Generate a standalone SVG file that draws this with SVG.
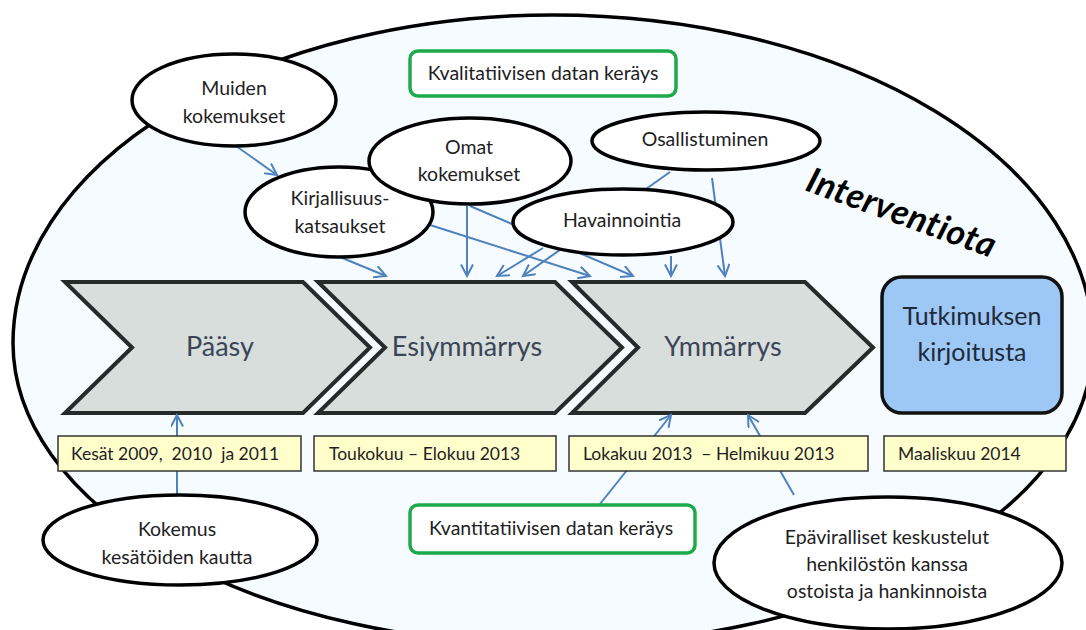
<svg xmlns="http://www.w3.org/2000/svg" width="1086" height="630" viewBox="0 0 1086 630">
<defs>
<style>
.bg{fill:#F5FBFE;stroke:#000;stroke-width:3.5}
.chev{fill:#D7DEDC;stroke:#262B2A;stroke-width:4;stroke-linejoin:miter}
.node{fill:#FFFFFF;stroke:#000;stroke-width:3.5}
.date{fill:#FFFFCC;stroke:#333;stroke-width:1.5}
.green{fill:#FFFFFF;stroke:#1EAA4A;stroke-width:3.5}
.blue{fill:#9DC8F6;stroke:#111;stroke-width:3.5}
.conn line{stroke:#4F81BD;stroke-width:2;fill:none;marker-end:url(#ah)}
text{font-family:Lato,"Open Sans","Liberation Sans",sans-serif;fill:#1E1E24}
.t17{font-size:19.5px;text-anchor:middle}
.t16{font-size:17.5px;white-space:pre}
.tc{font-size:27px;text-anchor:middle;fill:#3B4556}
.tb{font-size:25px;text-anchor:middle;fill:#1F2A3A}
</style>
<marker id="ah" markerWidth="14" markerHeight="14" refX="12" refY="6.5" orient="auto" markerUnits="userSpaceOnUse">
<path d="M0.5,0.5 L12,6.5 L0.5,12.5" fill="none" stroke="#4F81BD" stroke-width="2"/>
</marker>
</defs>

<g id="intervention-ellipse">
<path class="bg" d="M13,343 A540,328 0 0 1 1093,343 A540,302 0 0 1 13,343 Z"/>
</g>

<g id="chevron-paasy">
<polygon class="chev" points="65,282 303,282 370,347.5 303,413 65,413 132,347.5"/>
<text class="tc" x="220" y="356">Pääsy</text>
</g>
<g id="chevron-esiymmarrys">
<polygon class="chev" points="318,282 555,282 622,347.5 555,413 318,413 385,347.5"/>
<text class="tc" x="467" y="356">Esiymmärrys</text>
</g>
<g id="chevron-ymmarrys">
<polygon class="chev" points="572,282 805,282 873,347.5 805,413 572,413 638,347.5"/>
<text class="tc" x="723" y="356">Ymmärrys</text>
</g>
<g id="tutkimuksen-kirjoitusta">
<rect class="blue" x="882" y="277" width="180" height="136" rx="20"/>
<text class="tb" x="972" y="325">Tutkimuksen</text>
<text class="tb" x="972" y="361">kirjoitusta</text>
</g>

<g id="connectors" class="conn">
<line x1="236" y1="146" x2="277" y2="175"/>
<line x1="340" y1="257" x2="386" y2="276"/>
<line x1="430" y1="225" x2="590" y2="276"/>
<line x1="467" y1="206" x2="467" y2="276"/>
<line x1="470" y1="206" x2="633" y2="276"/>
<line x1="543" y1="248" x2="497" y2="276"/>
<line x1="670" y1="172" x2="523" y2="276"/>
<line x1="671" y1="256" x2="671" y2="276"/>
<line x1="712" y1="178" x2="725" y2="276"/>
<line x1="177" y1="496" x2="177" y2="415"/>
<line x1="600" y1="504" x2="671" y2="415"/>
<line x1="794" y1="495" x2="748" y2="415"/>
</g>

<g id="muiden-kokemukset">
<ellipse class="node" cx="234" cy="100" rx="102" ry="46"/>
<text class="t17" x="234" y="95">Muiden</text>
<text class="t17" x="234" y="123">kokemukset</text>
</g>
<g id="kirjallisuuskatsaukset">
<ellipse class="node" cx="339" cy="212" rx="94" ry="45"/>
<text class="t17" x="340" y="205">Kirjallisuus-</text>
<text class="t17" x="340" y="233">katsaukset</text>
</g>
<g id="omat-kokemukset">
<ellipse class="node" cx="470" cy="161" rx="101" ry="43"/>
<text class="t17" x="469" y="154">Omat</text>
<text class="t17" x="469" y="181">kokemukset</text>
</g>
<g id="osallistuminen">
<ellipse class="node" cx="706" cy="141" rx="114" ry="29"/>
<text class="t17" x="705" y="146">Osallistuminen</text>
</g>
<g id="havainnointia">
<ellipse class="node" cx="623" cy="222" rx="110" ry="33"/>
<text class="t17" x="622" y="227">Havainnointia</text>
</g>
<g id="kvalitatiivisen">
<rect class="green" x="410" y="51" width="266" height="45" rx="8"/>
<text class="t17" x="543" y="80">Kvalitatiivisen datan keräys</text>
</g>

<g id="date-kesat">
<rect class="date" x="58" y="436" width="243" height="35"/>
<text class="t16" x="71" y="460">Kesät 2009,  2010  ja 2011</text>
</g>
<g id="date-toukokuu">
<rect class="date" x="314" y="436" width="242" height="35"/>
<text class="t16" x="329" y="460">Toukokuu – Elokuu 2013</text>
</g>
<g id="date-lokakuu">
<rect class="date" x="569" y="436" width="299" height="35"/>
<text class="t16" x="583" y="460">Lokakuu 2013  – Helmikuu 2013</text>
</g>
<g id="date-maaliskuu">
<rect class="date" x="884" y="436" width="182" height="35"/>
<text class="t16" x="898" y="460">Maaliskuu 2014</text>
</g>

<g id="kokemus-kesatoiden">
<ellipse class="node" cx="180" cy="540" rx="137" ry="45"/>
<text class="t17" x="177" y="536">Kokemus</text>
<text class="t17" x="177" y="564">kesätöiden kautta</text>
</g>
<g id="kvantitatiivisen">
<rect class="green" x="410" y="505" width="285" height="48" rx="8"/>
<text class="t17" x="551" y="535">Kvantitatiivisen datan keräys</text>
</g>
<g id="epaviralliset">
<ellipse class="node" cx="888" cy="563" rx="174" ry="66"/>
<text class="t17" x="887" y="544">Epäviralliset keskustelut</text>
<text class="t17" x="887" y="571">henkilöstön kanssa</text>
<text class="t17" x="887" y="598">ostoista ja hankinnoista</text>
</g>

<g id="interventiota-label">
<text x="804" y="190" transform="rotate(20 804 190)" style="font-size:35px;font-weight:bold;font-style:italic;fill:#000;letter-spacing:0.5px">Interventiota</text>
</g>
</svg>
